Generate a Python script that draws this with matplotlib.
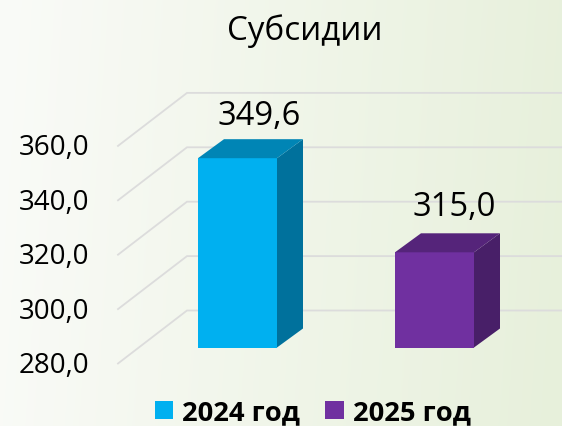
import numpy as np
import matplotlib
matplotlib.use('Agg')
import matplotlib.pyplot as plt
from matplotlib.patches import Polygon

# Datos
anios = ['2024 год', '2025 год']
valores = [349.6, 315.0]
etiquetas = ['349,6', '315,0']
ticks = [280, 300, 320, 340, 360]
tick_labels = ['280,0', '300,0', '320,0', '340,0', '360,0']
titulo = 'Субсидии'

colores = ['#00B0F0', '#7030A0']
colores_lado = ['#00719C', '#481F68']
colores_tapa = ['#0085B5', '#55247A']

plt.rcParams['font.family'] = ['Open Sans', 'DejaVu Sans']

W, H = 562, 427
fig = plt.figure(figsize=(W / 100, H / 100), dpi=100)

# Fondo degradado
fondo = fig.add_axes([0, 0, 1, 1])
xx, yy = np.meshgrid(np.linspace(0, 1, 200), np.linspace(0, 1, 150))
t = np.clip(0.95 * xx + 0.05 * yy, 0, 1)[..., None]
claro = np.array([0xFA, 0xFB, 0xF8]) / 255
verde = np.array([0xE7, 0xF0, 0xDB]) / 255
fondo.imshow(claro * (1 - t) + verde * t, aspect='auto', extent=[0, 1, 0, 1])
fondo.axis('off')

# Escalas: la categoria 0 centrada en x=237.5 px, 197 px entre categorias
# 280 en y=348.5 px, 2.72 px por unidad
px_x = 197
px_y = 2.72
base = 348.5
ax = fig.add_axes([0, 0, 1, 1])
ax.patch.set_alpha(0)
ax.set_xlim(-237.5 / px_x, (W - 237.5) / px_x)
ax.set_ylim(280 - (H - base) / px_y, 280 + base / px_y)
ax.axis('off')

ancho = 79 / px_x
dx = 26 / px_x
dy = 19 / px_y
x = np.arange(len(valores))

# Rejilla
for v in ticks:
    x0, x1, x2 = -119.5 / px_x, -50.5 / px_x, (W - 237.5) / px_x
    y0, y1 = v - 16 / px_y, v + 37 / px_y
    ax.plot([x0, x1, x2], [y0, y1, y1], color='#DCDCDC', lw=1.3, zorder=1,
            solid_joinstyle='miter')

barras = ax.bar(x, np.array(valores) - 280, ancho, bottom=280, color=colores, zorder=3)

for i, v in enumerate(valores):
    xd = x[i] + ancho / 2
    lado = [(xd, 280), (xd + dx, 280 + dy), (xd + dx, v + dy), (xd, v)]
    xi = x[i] - ancho / 2
    tapa = [(xi, v), (xi + dx, v + dy), (xd + dx, v + dy), (xd, v)]
    ax.add_patch(Polygon(lado, color=colores_lado[i], lw=0, zorder=3))
    ax.add_patch(Polygon(tapa, color=colores_tapa[i], lw=0, zorder=3))

offsets = [(22, 43), (20, 46)]
for i, v in enumerate(valores):
    ax.annotate(etiquetas[i], (x[i], v), xytext=(offsets[i][0] * 0.72, offsets[i][1] * 0.72),
                textcoords='offset points', ha='center', va='center', fontsize=23.6,
                color='black', zorder=5)

for v, lab in zip(ticks, tick_labels):
    ax.annotate(lab, (x0, v - 16 / px_y), xytext=(-29 * 0.72, -1.5 * 0.72),
                textcoords='offset points', ha='right', va='center', fontsize=20, color='black')

fig.text(305 / W, 1 - 31.5 / H, titulo, ha='center', va='center', fontsize=23.9, color='black')

leg = ax.legend(handles=list(barras), labels=anios, loc='center', ncol=2,
                bbox_to_anchor=(312.5 / W, 1 - 413.5 / H), frameon=False,
                prop={'size': 19.7, 'weight': 'bold'}, handlelength=0.66, handleheight=0.66,
                handletextpad=0.33, columnspacing=0.95, borderpad=0, borderaxespad=0)

fig.savefig('out.png', dpi=100)
